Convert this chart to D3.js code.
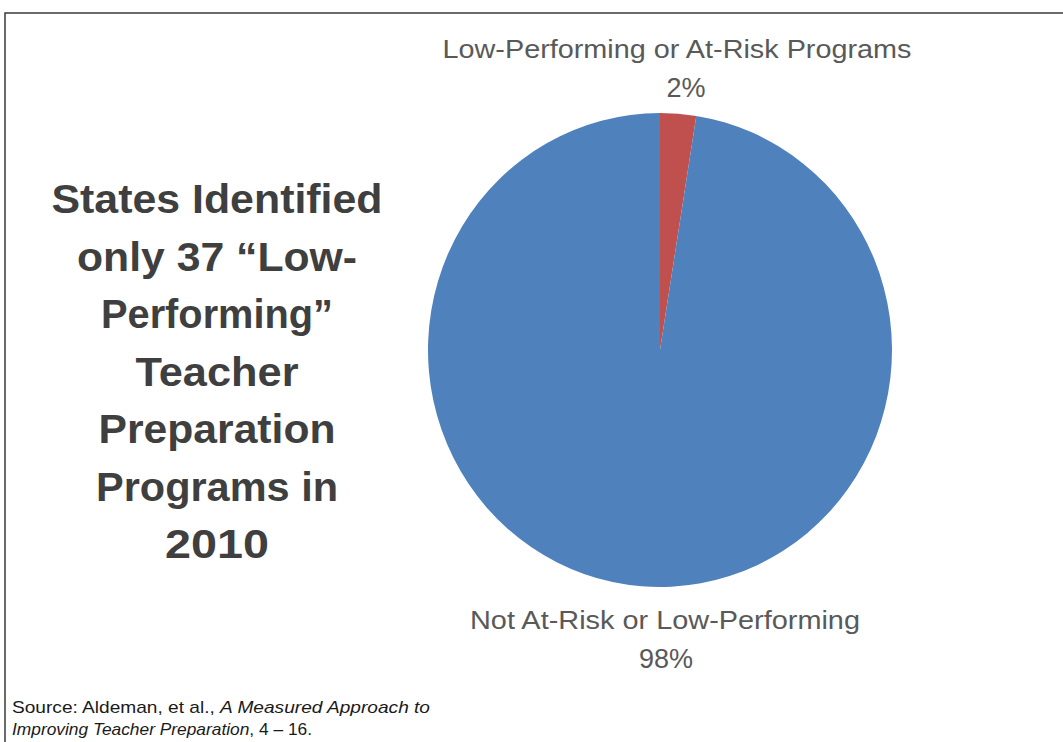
<!DOCTYPE html>
<html><head><meta charset="utf-8">
<script src="https://cdn.jsdelivr.net/npm/d3@7/dist/d3.min.js"></script>
<style>html,body{margin:0;padding:0;background:#fff;}svg{display:block;}</style>
</head><body>
<svg id="c" width="1063" height="742"></svg>
<script>
// Data
const categories = ["Low-Performing or At-Risk Programs", "Not At-Risk or Low-Performing"];
const values = [2.5, 97.5];
const percentLabels = ["2%", "98%"];
const colors = ["#C0504D", "#4F81BD"];
const titleLines = ["States Identified", "only 37  \u201cLow-", "Performing\u201d", "Teacher", "Preparation", "Programs in", "2010"];

const svg = d3.select("#c");

// frame
svg.append("rect").attr("x", 5).attr("y", 13).attr("width", 1200).attr("height", 900)
  .attr("fill", "none").attr("stroke", "#3a3a3a").attr("stroke-width", 1.5);

function fit(sel, w) {
  sel.each(function(){
    const len = this.getComputedTextLength();
    if (len > 0) d3.select(this).attr("textLength", w).attr("lengthAdjust", "spacingAndGlyphs");
  });
}

// pie
const cx = 660, cy = 350, ry = 237, rx = 232;
const pie = d3.pie().sort(null).value(d => d)(values);
const arc = d3.arc().innerRadius(0).outerRadius(ry);
const g = svg.append("g").attr("transform", `translate(${cx},${cy}) scale(${rx/ry},1)`);
g.selectAll("path").data(pie).join("path")
  .attr("d", arc).attr("fill", (d,i) => colors[i]).attr("stroke", "none");

// labels
const lab = svg.append("g").attr("font-family", "Liberation Sans, Arial, sans-serif").attr("fill", "#595959").attr("font-size", 26);
lab.append("text").attr("x", 677).attr("y", 58).attr("text-anchor", "middle").text(categories[0]).call(fit, 469);
lab.append("text").attr("x", 686).attr("y", 97).attr("font-size", 27).attr("text-anchor", "middle").text(percentLabels[0]);
lab.append("text").attr("x", 665).attr("y", 629).attr("text-anchor", "middle").text(categories[1]).call(fit, 390);
lab.append("text").attr("x", 666).attr("y", 668).attr("font-size", 27).attr("text-anchor", "middle").text(percentLabels[1]);

// title
const tw = [331, 280, 232, 163, 237, 242, 104];
const tg = svg.append("g").attr("font-family", "Liberation Sans, Arial, sans-serif").attr("font-weight", "bold")
  .attr("fill", "#3f3f3f").attr("font-size", 41);
titleLines.forEach((t, i) => {
  tg.append("text").attr("x", 217).attr("y", 213 + i * 57.5).attr("text-anchor", "middle").text(t).call(fit, tw[i]);
});

// source
const sg = svg.append("g").attr("font-family", "Liberation Sans, Arial, sans-serif").attr("fill", "#1a1a1a").attr("font-size", 17);
const s1 = sg.append("text").attr("x", 12).attr("y", 713);
s1.append("tspan").text("Source: Aldeman, et al., ");
s1.append("tspan").attr("font-style", "italic").text("A Measured Approach to");
s1.call(fit, 418);
const s2 = sg.append("text").attr("x", 12).attr("y", 735);
s2.append("tspan").attr("font-style", "italic").text("Improving Teacher Preparation");
s2.append("tspan").text(", 4 \u2013 16.");
s2.call(fit, 300);
</script>
</body></html>
